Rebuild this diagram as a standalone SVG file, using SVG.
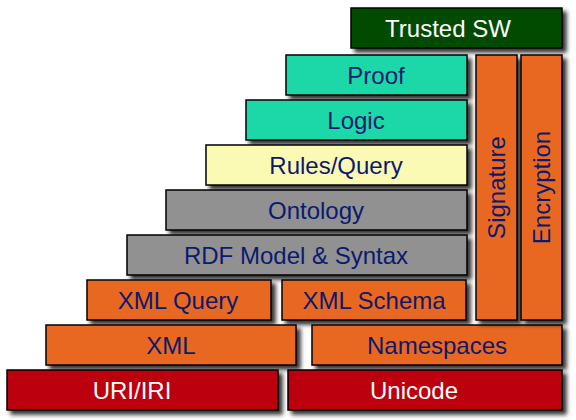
<svg xmlns="http://www.w3.org/2000/svg" width="576" height="420" viewBox="0 0 576 420">
<defs>
<filter id="sh" x="-10%" y="-20%" width="130%" height="160%">
<feDropShadow dx="4" dy="4" stdDeviation="2" flood-color="#000" flood-opacity="0.8"/>
</filter>
<style>
rect{stroke:#000;stroke-width:1.5;filter:url(#sh)}
text{font-family:"Liberation Sans",Arial,sans-serif;font-size:24px;text-anchor:middle;fill:#0c1a6e}
.w{fill:#fff}
.org{fill:#e86824}
.red{fill:#bc0010}
.grn{fill:#004c00}
.tea{fill:#1fd8a8}
.yel{fill:#fafab4}
.gry{fill:#919191}
</style>
</defs>
<rect width="576" height="420" fill="#fff" style="stroke:none;filter:none"/>
<g id="trusted"><rect class="grn" x="351" y="8" width="211" height="40"/><text class="w" x="448" y="37">Trusted SW</text></g>
<g id="proof"><rect class="tea" x="286" y="55" width="181" height="40"/><text x="376" y="84">Proof</text></g>
<g id="logic"><rect class="tea" x="246" y="100" width="221" height="40"/><text x="356" y="129">Logic</text></g>
<g id="rules"><rect class="yel" x="206" y="145" width="261" height="40"/><text x="336" y="174">Rules/Query</text></g>
<g id="ontology"><rect class="gry" x="166" y="190" width="301" height="40"/><text x="316" y="219">Ontology</text></g>
<g id="rdf"><rect class="gry" x="127" y="235" width="340" height="40"/><text x="296" y="264">RDF Model &amp; Syntax</text></g>
<g id="xmlquery"><rect class="org" x="87" y="280" width="184" height="40"/><text x="178" y="309">XML Query</text></g>
<g id="xmlschema"><rect class="org" x="282" y="280" width="184" height="40"/><text x="374" y="309">XML Schema</text></g>
<g id="xml"><rect class="org" x="46" y="325" width="250" height="40"/><text x="171" y="354">XML</text></g>
<g id="namespaces"><rect class="org" x="312" y="325" width="250" height="40"/><text x="437" y="354">Namespaces</text></g>
<g id="uri"><rect class="red" x="7" y="370" width="271" height="40"/><text class="w" x="132" y="399">URI/IRI</text></g>
<g id="unicode"><rect class="red" x="288" y="370" width="274" height="40"/><text class="w" x="414" y="399">Unicode</text></g>
<g id="signature"><rect class="org" x="476" y="55" width="41" height="265"/><text transform="translate(504.5,187.5) rotate(-90)">Signature</text></g>
<g id="encryption"><rect class="org" x="521" y="55" width="41" height="265"/><text transform="translate(549.5,187.5) rotate(-90)">Encryption</text></g>
<g id="connectors"></g>
</svg>
